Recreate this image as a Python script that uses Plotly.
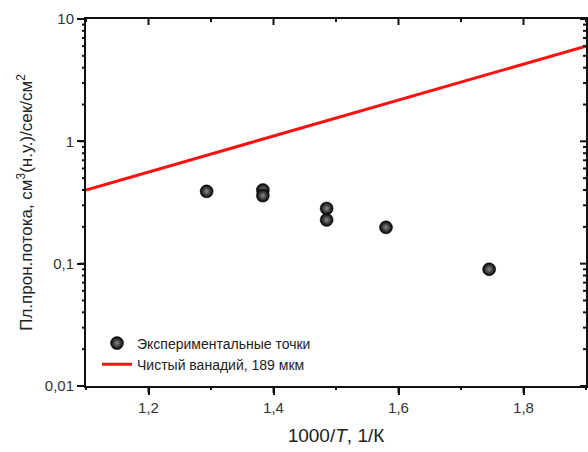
import math
import plotly.graph_objects as go

# Experimental permeation flux points
exp_x = [1.293, 1.383, 1.383, 1.485, 1.485, 1.580, 1.745]
exp_y = [0.39, 0.40, 0.36, 0.283, 0.228, 0.198, 0.090]

# Pure vanadium reference line (189 µm)
v_x = [1.1, 1.9]
v_y = [0.40, 6.0]

x_major = [1.2, 1.4, 1.6, 1.8]
x_minor = [1.1, 1.3, 1.5, 1.7, 1.9]
y_major = [0.01, 0.1, 1, 10]
y_major_text = ["0,01", "0,1", "1", "10"]
y_minor = [m * d for d in (0.01, 0.1, 1) for m in range(2, 10)]
x_range = [1.1, 1.9]
y_range_log = [-2, 1]

font_family = "Liberation Sans, Arial, sans-serif"
ink = "#111111"

W, H = 588, 452
M = dict(l=86, r=2, t=19, b=66)
plot_w = W - M["l"] - M["r"]
plot_h = H - M["t"] - M["b"]

fig = go.Figure()
fig.add_trace(go.Scatter(
    x=exp_x, y=exp_y, mode="markers",
    name="Экспериментальные точки",
    marker=dict(size=13, color="#000000",
                gradient=dict(type="radial", color="#8a8a8a"),
                line=dict(width=0.5, color="#000000")),
))
fig.add_trace(go.Scatter(
    x=v_x, y=v_y, mode="lines",
    name="Чистый ванадий, 189 мкм",
    line=dict(color="#ff1010", width=3),
))


def xfrac(v):
    return (v - x_range[0]) / (x_range[1] - x_range[0])


def yfrac(v):
    return (math.log10(v) - y_range_log[0]) / (y_range_log[1] - y_range_log[0])


# Frame tick marks: outside on left/bottom, inside on top/right
shapes = []
tick_style = dict(type="line", xref="paper", yref="paper", layer="above",
                  line=dict(color=ink, width=2))
for vals, out_len, in_len in ((x_major, 7, 6), (x_minor, 4, 3)):
    for v in vals:
        f = xfrac(v)
        shapes.append(dict(**tick_style, x0=f, x1=f, y0=0, y1=-out_len / plot_h))
        shapes.append(dict(**tick_style, x0=f, x1=f, y0=1, y1=1 - in_len / plot_h))
for vals, out_len, in_len in ((y_major, 7, 6), (y_minor, 4, 3)):
    for v in vals:
        f = yfrac(v)
        shapes.append(dict(**tick_style, y0=f, y1=f, x0=0, x1=-out_len / plot_w))
        shapes.append(dict(**tick_style, y0=f, y1=f, x0=1, x1=1 - in_len / plot_w))

frame = dict(showline=True, linecolor=ink, linewidth=2, mirror=True,
             showgrid=False, zeroline=False, automargin=False)

fig.update_layout(
    width=W, height=H,
    margin=M,
    paper_bgcolor="white", plot_bgcolor="white",
    separators=", ",
    font=dict(family=font_family, size=15, color="#333333"),
    showlegend=True,
    legend=dict(x=0.022, y=0.015, xanchor="left", yanchor="bottom",
                bgcolor="rgba(0,0,0,0)", font=dict(size=14, color="#222222"),
                tracegroupgap=0),
    shapes=shapes,
    xaxis=dict(**frame, range=x_range, tickvals=x_major,
               ticks="outside", ticklen=7, tickcolor=ink, tickwidth=2,
               tickfont=dict(size=15, color="#333333"),
               title=dict(text="1000/<i>T</i>, 1/К", font=dict(size=19, color="#222222"),
                          standoff=14)),
    yaxis=dict(**frame, type="log", range=y_range_log,
               tickvals=y_major, ticktext=y_major_text,
               ticks="outside", ticklen=7, tickcolor=ink, tickwidth=2,
               tickfont=dict(size=15, color="#333333"),
               title=dict(text="Пл.прон.потока, см<sup>3</sup>(н.у.)/сек/см<sup>2</sup>",
                          font=dict(size=17, color="#222222"), standoff=8)),
)

fig.write_html("out.html")
